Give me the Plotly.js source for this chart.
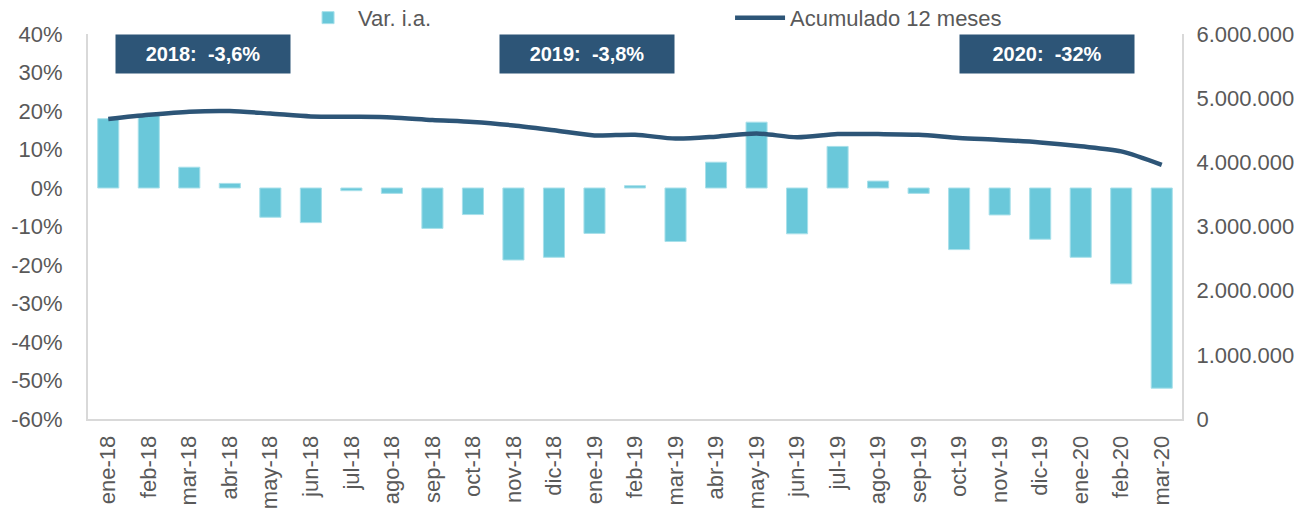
<!DOCTYPE html>
<html>
<head>
<meta charset="utf-8">
<script src="https://cdn.plot.ly/plotly-3.0.1.min.js"></script>
<style>html,body{margin:0;padding:0;background:#fff;}#chart{width:1303px;height:517px;}</style>
</head>
<body>
<div id="chart"></div>
<script>
const months = ["ene-18","feb-18","mar-18","abr-18","may-18","jun-18","jul-18","ago-18","sep-18","oct-18","nov-18","dic-18",
  "ene-19","feb-19","mar-19","abr-19","may-19","jun-19","jul-19","ago-19","sep-19","oct-19","nov-19","dic-19",
  "ene-20","feb-20","mar-20"];
const varIA = [18.0, 18.8, 5.4, 1.2, -7.6, -9.0, -0.7, -1.4, -10.5, -6.9, -18.7, -18.0,
  -11.8, 0.6, -13.9, 6.7, 17.1, -11.9, 10.8, 1.8, -1.4, -16.0, -7.0, -13.3,
  -18.0, -24.9, -52.0];
const acum12 = [4675000, 4740000, 4790000, 4800000, 4760000, 4715000, 4710000, 4700000, 4660000, 4630000, 4575000, 4500000,
  4420000, 4430000, 4370000, 4400000, 4450000, 4390000, 4440000, 4440000, 4430000, 4380000, 4350000, 4310000,
  4250000, 4170000, 3960000];
const seriesNames = ["Var. i.a.", "Acumulado 12 meses"];
const yearLabels = ["2018:  -3,6%", "2019:  -3,8%", "2020:  -32%"];
const pctTickVals = [-60, -50, -40, -30, -20, -10, 0, 10, 20, 30, 40];
const pctTickText = ["-60%", "-50%", "-40%", "-30%", "-20%", "-10%", "0%", "10%", "20%", "30%", "40%"];

const font = "'Liberation Sans', Arial, sans-serif";
const grey = "#595959";
const barColor = "#6ac8da";
const navy = "#2d5577";

const traces = [
  {
    type: "bar", x: months, y: varIA, name: seriesNames[0],
    marker: {color: barColor, line: {color: "#a8e0ea", width: 1}},
    hoverinfo: "x+y"
  },
  {
    type: "scatter", mode: "lines", x: months, y: acum12, name: seriesNames[1], yaxis: "y2",
    line: {color: navy, width: 4.5, shape: "spline", smoothing: 0.8}
  }
];

const annBox = (txt, xp) => ({
  text: "<b>" + txt + "</b>", xref: "paper", yref: "paper", x: xp, y: 1, xanchor: "center", yanchor: "top",
  showarrow: false, bgcolor: navy, width: 170, height: 34, borderpad: 2,
  font: {family: font, size: 20, color: "#ffffff"}
});

const layout = {
  width: 1303, height: 517,
  margin: {l: 88, r: 121, t: 34, b: 98, pad: 0, autoexpand: false},
  paper_bgcolor: "#ffffff", plot_bgcolor: "#ffffff",
  separators: ",.",
  font: {family: font, size: 22, color: grey},
  bargap: 0.48,
  showlegend: true,
  legend: {
    orientation: "h", xref: "paper", yref: "paper", x: 0.192, y: 1.042, xanchor: "left", yanchor: "middle",
    font: {family: font, size: 22, color: grey}, entrywidth: 367, itemwidth: 50, bgcolor: "rgba(0,0,0,0)"
  },
  xaxis: {
    type: "category", range: [-0.5, 26.5], tickangle: -90, showgrid: false, ticks: "",
    showline: true, linecolor: "#d9d9d9", linewidth: 2, mirror: false,
    tickfont: {family: font, size: 22, color: grey}, ticklabelstandoff: 6, zeroline: false
  },
  yaxis: {
    range: [-60, 40], tickmode: "array", tickvals: pctTickVals, ticktext: pctTickText,
    showgrid: false, zeroline: false,
    showline: true, linecolor: "#d9d9d9", linewidth: 2, ticks: "",
    tickfont: {family: font, size: 22, color: grey}, ticklabelstandoff: 19
  },
  yaxis2: {
    overlaying: "y", side: "right", range: [0, 6000000], dtick: 1000000, tick0: 0, tickformat: ",d",
    showgrid: false, zeroline: false, showline: true, linecolor: "#d9d9d9", linewidth: 2, ticks: "",
    tickfont: {family: font, size: 22, color: grey}, ticklabelstandoff: 8
  },
  annotations: [annBox(yearLabels[0], 0.105), annBox(yearLabels[1], 0.456), annBox(yearLabels[2], 0.877)]
};

Plotly.newPlot("chart", traces, layout, {displayModeBar: false, staticPlot: true});
</script>
</body>
</html>
